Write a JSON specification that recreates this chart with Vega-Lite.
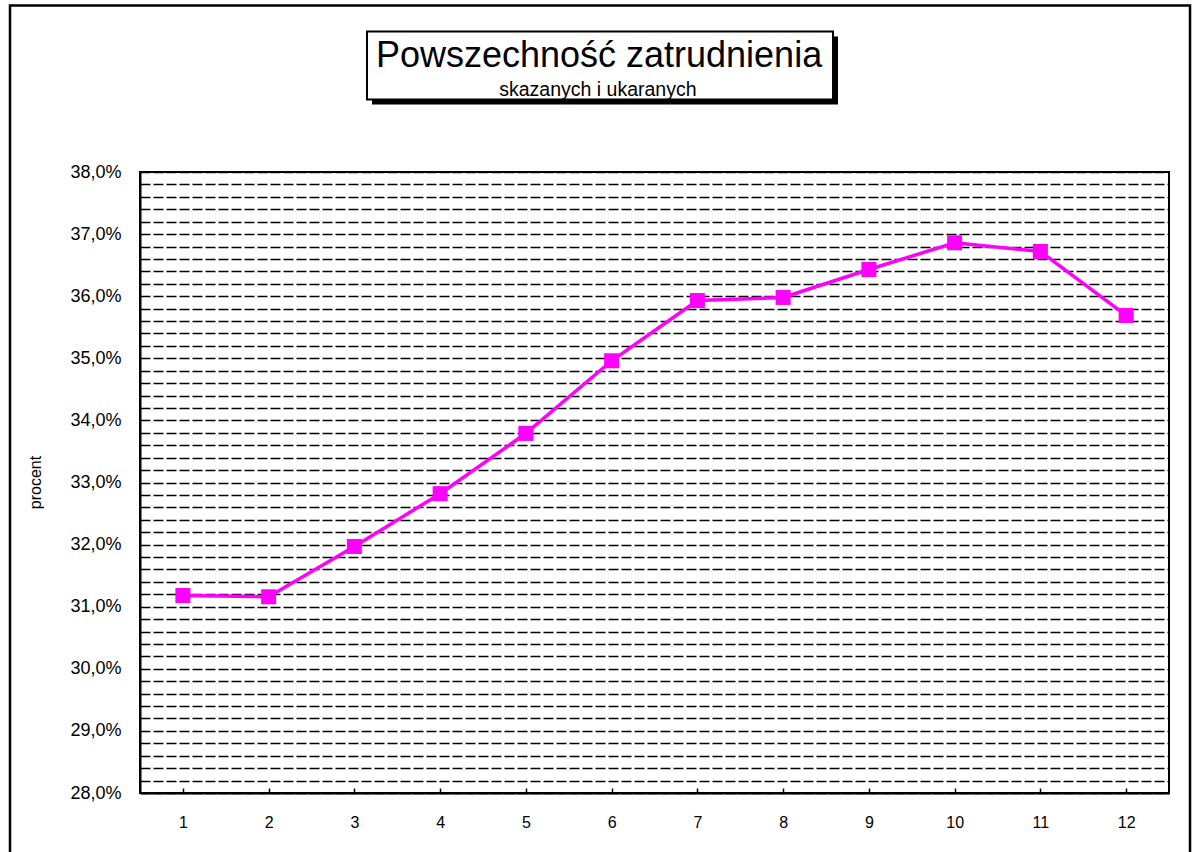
{
  "$schema": "https://vega.github.io/schema/vega-lite/v6.json",
  "autosize": {"type": "none"},
  "width": 1029,
  "height": 621,
  "padding": {"left": 140, "top": 172, "right": 23, "bottom": 59},
  "background": "white",
  "config": {
    "font": "Liberation Sans",
    "view": {"stroke": "black", "strokeWidth": 2},
    "axis": {"labelFont": "Liberation Sans", "titleFont": "Liberation Sans", "labelColor": "black", "titleColor": "black", "domainColor": "black", "domainWidth": 2, "tickColor": "black"}
  },
  "resolve": {"axis": {"x": "independent", "y": "independent"}},
  "datasets": {
    "zatrudnienie": [
      {"okres": 1, "v": 0.3118},
      {"okres": 2, "v": 0.3116},
      {"okres": 3, "v": 0.3197},
      {"okres": 4, "v": 0.3282},
      {"okres": 5, "v": 0.3379},
      {"okres": 6, "v": 0.3496},
      {"okres": 7, "v": 0.3593},
      {"okres": 8, "v": 0.3598},
      {"okres": 9, "v": 0.3643},
      {"okres": 10, "v": 0.3686},
      {"okres": 11, "v": 0.3672},
      {"okres": 12, "v": 0.3569}
    ],
    "tytul": [{"tytul": "Powszechność zatrudnienia", "podtytul": "skazanych i ukaranych"}]
  },
  "layer": [
    {
      "data": {"name": "tytul"},
      "mark": {"type": "rect", "fill": "white", "fillOpacity": 0, "stroke": "black", "strokeWidth": 2.5, "clip": false},
      "encoding": {
        "x": {"datum": -1.016, "type": "quantitative", "axis": null, "scale": {"domain": [0.5, 12.5], "nice": false, "zero": false}},
        "x2": {"datum": 12.745},
        "y": {"datum": 0.4068, "type": "quantitative", "axis": null, "scale": {"domain": [0.28, 0.38], "nice": false, "zero": false}},
        "y2": {"datum": 0.2676}
      }
    },
    {
      "data": {"name": "tytul"},
      "mark": {"type": "rect", "fill": "black", "clip": false},
      "encoding": {
        "x": {"datum": 3.2056, "type": "quantitative", "axis": null},
        "x2": {"datum": 8.640},
        "y": {"datum": 0.40182, "type": "quantitative", "axis": null},
        "y2": {"datum": 0.39087}
      }
    },
    {
      "data": {"name": "tytul"},
      "mark": {"type": "rect", "fill": "white", "stroke": "black", "strokeWidth": 2, "clip": false},
      "encoding": {
        "x": {"datum": 3.147, "type": "quantitative", "axis": null},
        "x2": {"datum": 8.582},
        "y": {"datum": 0.40262, "type": "quantitative", "axis": null},
        "y2": {"datum": 0.39167}
      }
    },
    {
      "data": {"name": "tytul"},
      "mark": {"type": "text", "fontSize": 36, "color": "black", "align": "center", "baseline": "alphabetic", "clip": false},
      "encoding": {
        "x": {"datum": 5.853, "type": "quantitative", "axis": null},
        "y": {"datum": 0.39688, "type": "quantitative", "axis": null},
        "text": {"field": "tytul"}
      }
    },
    {
      "data": {"name": "tytul"},
      "mark": {"type": "text", "fontSize": 19.5, "color": "black", "align": "center", "baseline": "alphabetic", "clip": false},
      "encoding": {
        "x": {"datum": 5.84, "type": "quantitative", "axis": null},
        "y": {"datum": 0.39225, "type": "quantitative", "axis": null},
        "text": {"field": "podtytul"}
      }
    },
    {
      "data": {"name": "zatrudnienie"},
      "encoding": {
        "x": {
          "field": "okres", "type": "quantitative",
          "axis": {"orient": "bottom", "values": [1,2,3,4,5,6,7,8,9,10,11,12], "format": "d", "grid": false, "title": null, "tickSize": -5, "tickWidth": 1.5, "labelPadding": 26, "labelFontSize": 16, "labelFlush": false}
        },
        "y": {
          "field": "v", "type": "quantitative",
          "axis": {
            "orient": "left",
            "values": [0.28,0.282,0.284,0.286,0.288,0.29,0.292,0.294,0.296,0.298,0.30,0.302,0.304,0.306,0.308,0.31,0.312,0.314,0.316,0.318,0.32,0.322,0.324,0.326,0.328,0.33,0.332,0.334,0.336,0.338,0.34,0.342,0.344,0.346,0.348,0.35,0.352,0.354,0.356,0.358,0.36,0.362,0.364,0.366,0.368,0.37,0.372,0.374,0.376,0.378,0.38],
            "labelExpr": "abs(datum.value*100 - round(datum.value*100)) < 0.001 ? replace(format(datum.value, '.1%'), '.', ',') : ''",
            "labelOverlap": false,
            "labelFlush": false,
            "ticks": false,
            "labelPadding": 19,
            "labelFontSize": 18,
            "grid": true, "gridColor": "black", "gridWidth": 1.5, "gridDash": [10, 3], "gridOpacity": 1,
            "title": "procent", "titleFontSize": 16, "titleFontWeight": "normal",
            "titleX": -105, "titleY": 310, "titleBaseline": "middle", "titleAngle": -90
          }
        }
      },
      "layer": [
        {"mark": {"type": "line", "color": "#FF00FF", "strokeWidth": 3.5}},
        {"mark": {"type": "point", "shape": "square", "filled": true, "color": "#FF00FF", "size": 225, "opacity": 1}}
      ]
    }
  ]
}
